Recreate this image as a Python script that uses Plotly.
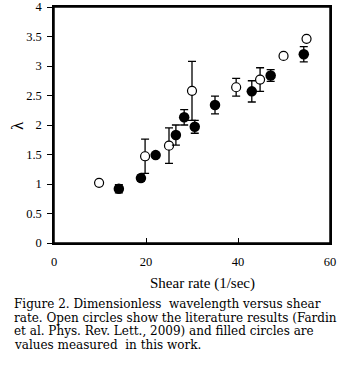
import plotly.graph_objects as go

# literature values (open circles), Fardin et al. 2009
lit_rate = [9.8, 19.8, 25.0, 30.0, 39.6, 44.8, 49.9, 54.9]
lit_lambda = [1.02, 1.47, 1.65, 2.58, 2.64, 2.77, 3.17, 3.46]
lit_err = [0.02, 0.29, 0.30, 0.50, 0.15, 0.20, 0.02, 0.02]

# this work (filled circles)
work_rate = [14.1, 18.9, 22.1, 26.5, 28.3, 30.6, 35.0, 43.0, 47.1, 54.3]
work_lambda = [0.92, 1.10, 1.49, 1.83, 2.13, 1.97, 2.34, 2.57, 2.84, 3.20]
work_err = [0.07, 0.05, 0.03, 0.17, 0.13, 0.11, 0.15, 0.18, 0.10, 0.13]

x_title = "Shear rate (1/sec)"
y_title = "λ"
caption = [
    "Figure 2. Dimensionless  wavelength versus shear",
    "rate. Open circles show the literature results (Fardin",
    "et al. Phys. Rev. Lett., 2009) and filled circles are",
    "values measured  in this work.",
]

W, H = 359, 385
serif = "Liberation Serif"
cap_font = "DejaVu Serif"

fig = go.Figure()

fig.add_trace(go.Scatter(
    x=lit_rate, y=lit_lambda, mode="markers",
    marker=dict(symbol="circle", size=9, color="white", line=dict(color="black", width=1.2)),
    error_y=dict(type="data", array=lit_err, color="black", thickness=1.3, width=4),
))
fig.add_trace(go.Scatter(
    x=work_rate, y=work_lambda, mode="markers",
    marker=dict(symbol="circle", size=10.5, color="black"),
    error_y=dict(type="data", array=work_err, color="black", thickness=1.3, width=4),
))

fig.update_xaxes(
    range=[0, 60], dtick=20, ticks="inside", ticklen=5, tickwidth=1.3, tickcolor="black",
    showline=True, linecolor="black", linewidth=1.5, mirror=True, automargin=False,
    showgrid=False, zeroline=False, ticklabelstandoff=6, ticklabeloverflow="allow",
    tickfont=dict(family=serif, size=12.5, color="black"),
)
fig.update_yaxes(
    range=[0, 4], dtick=0.5, ticks="outside", ticklen=5, tickwidth=1.3, tickcolor="black",
    showline=True, linecolor="black", linewidth=1.5, mirror=True, automargin=False,
    showgrid=False, zeroline=False, ticklabelstandoff=3, ticklabeloverflow="allow",
    tickfont=dict(family=serif, size=12.5, color="black"),
)

# plot box in page pixels: left 54, top 7, right 330, bottom 243
ml, mt, mr, mb = 54, 7, W - 330, H - 243
pw, ph = W - ml - mr, H - mt - mb


def px_x(p):
    return (p - ml) / pw


def px_y(p):
    return (H - mb - p) / ph


ann = [
    dict(text=x_title, x=px_x(202), y=px_y(283), font=dict(family=serif, size=15, color="black"),
         xanchor="center", yanchor="middle"),
    dict(text=y_title, x=px_x(17), y=px_y(126), textangle=-90,
         font=dict(family=serif, size=17, color="black"), xanchor="center", yanchor="middle"),
]
for i, line in enumerate(caption):
    ann.append(dict(text=line, x=px_x(12), y=px_y(304 + i * 13.6), xanchor="left", yanchor="middle",
                    font=dict(family=cap_font, size=12, color="black")))
for a in ann:
    a.update(xref="paper", yref="paper", showarrow=False)

fig.update_layout(
    width=W, height=H, showlegend=False,
    margin=dict(l=ml, r=mr, t=mt, b=mb),
    paper_bgcolor="white", plot_bgcolor="white",
    annotations=ann,
    shapes=[dict(type="rect", xref="paper", yref="paper", x0=0, x1=1, y0=0, y1=1,
                 line=dict(color="black", width=1.5), layer="above")],
)

# drop the default 8px body margin so the figure sits at the page corner
fig.write_html("out.html", config={"displayModeBar": False},
               post_script="document.body.style.margin = '0px';")
